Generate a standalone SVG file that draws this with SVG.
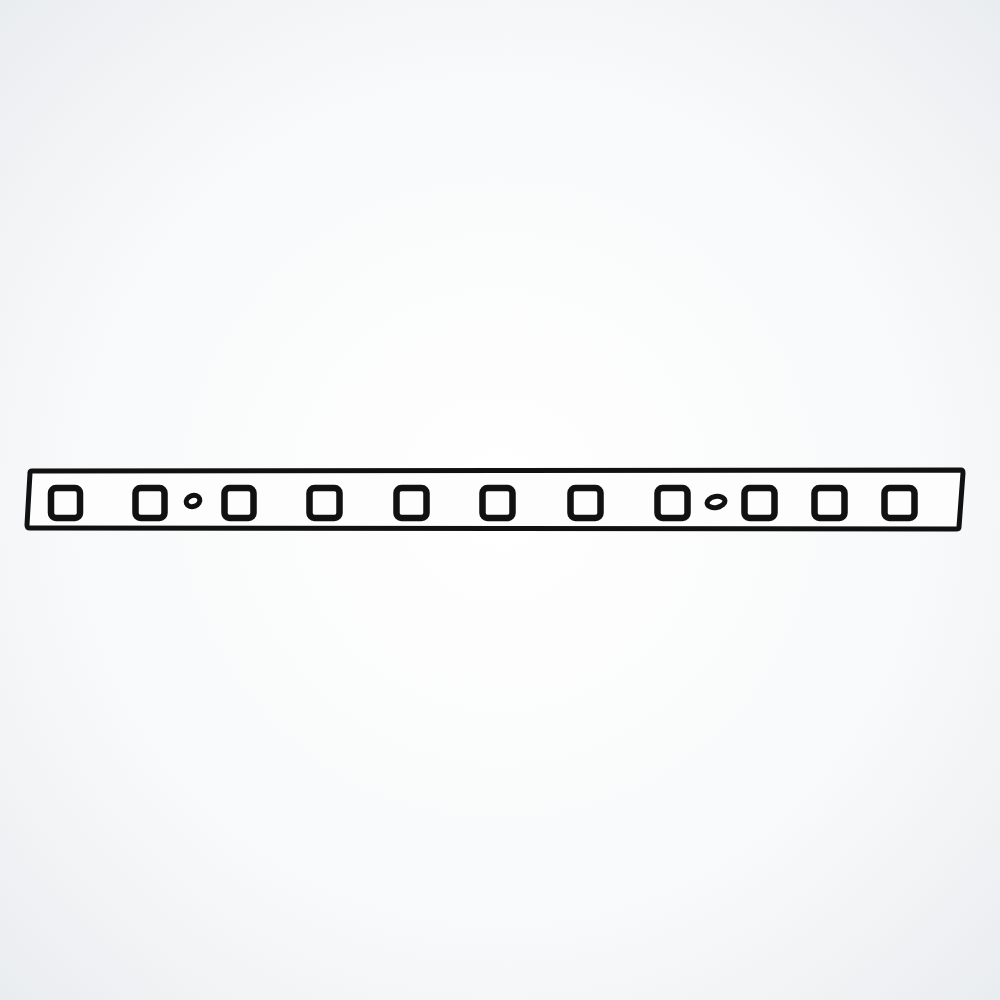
<svg xmlns="http://www.w3.org/2000/svg" width="1000" height="1000" viewBox="0 0 1000 1000">
<defs>
<radialGradient id="bg" cx="50%" cy="50%" r="72%">
<stop offset="0%" stop-color="#ffffff"/>
<stop offset="60%" stop-color="#f8f9fa"/>
<stop offset="100%" stop-color="#e9ecef"/>
</radialGradient>
<style>
.sq{fill:#fdfdfd;stroke:#111;stroke-width:6.5;stroke-linejoin:round}
.strip{fill:#fdfdfd;stroke:#111;stroke-width:5;stroke-linejoin:round}
.dot{fill:#fdfdfd;stroke:#111;stroke-width:5}
</style>
</defs>
<rect width="1000" height="1000" fill="url(#bg)"/>
<g id="strip">
<path class="strip" d="M32,471 L961,470 Q963,470 963,473 L959,527 Q959,529 956,529 L30,528 Q27,528 27,525 L30,473 Q30,471 32,471 Z"/>
</g>
<g id="squares">
<rect class="sq" x="51" y="488" width="29" height="30" rx="5"/>
<rect class="sq" x="135.5" y="488" width="29" height="30" rx="5"/>
<rect class="sq" x="224.5" y="488" width="29" height="30" rx="5"/>
<rect class="sq" x="309.5" y="488" width="30" height="30" rx="5"/>
<rect class="sq" x="396.5" y="488" width="30" height="30" rx="5"/>
<rect class="sq" x="482.5" y="488" width="30" height="30" rx="5"/>
<rect class="sq" x="570.5" y="488" width="30" height="30" rx="5"/>
<rect class="sq" x="657.5" y="488" width="30" height="30" rx="5"/>
<rect class="sq" x="744.5" y="488" width="30" height="30" rx="5"/>
<rect class="sq" x="814.5" y="488" width="30" height="30" rx="5"/>
<rect class="sq" x="884.5" y="488" width="30" height="30" rx="5"/>
</g>
<g id="holes">
<ellipse class="dot" cx="193" cy="501" rx="7" ry="5.5" transform="rotate(-20 193 501)"/>
<ellipse class="dot" cx="716" cy="502" rx="9" ry="5.5" transform="rotate(-10 716 502)"/>
</g>
</svg>
